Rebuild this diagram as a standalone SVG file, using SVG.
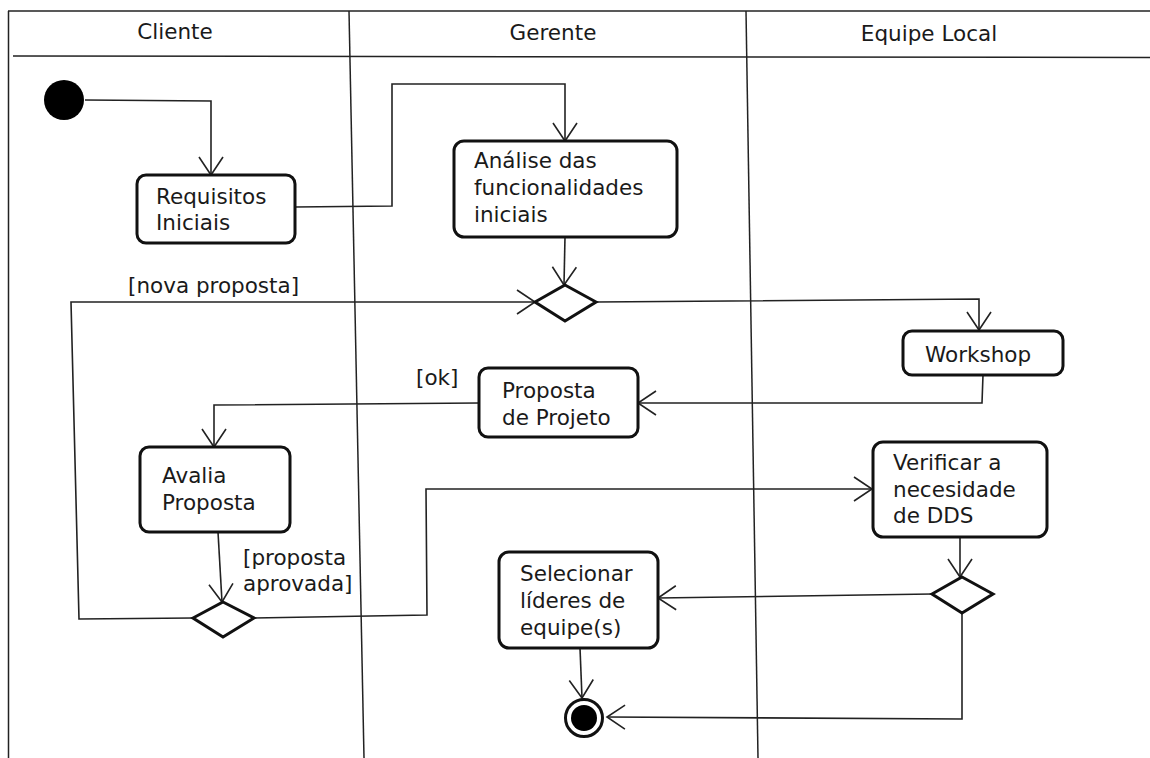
<svg xmlns="http://www.w3.org/2000/svg" width="1150" height="758" viewBox="0 0 1150 758">
  <style>
    .lane { fill: none; stroke: #222; stroke-width: 1.5; }
    .edge { fill: none; stroke: #222; stroke-width: 1.6; }
    .act { fill: #fff; stroke: #111; stroke-width: 3; }
    .dec { fill: #fff; stroke: #111; stroke-width: 3; stroke-linejoin: miter; }
    text { font-family: "DejaVu Sans", "Liberation Sans", sans-serif; font-size: 21.5px; fill: #1a1a1a; }
    .hdr { text-anchor: middle; }
  </style>
  <defs>
    <marker id="open" markerUnits="userSpaceOnUse" markerWidth="40" markerHeight="40" refX="0" refY="0" viewBox="-20 -20 40 40" orient="auto" overflow="visible">
      <path d="M-18,-12 L0,0 L-18,12" fill="none" stroke="#222" stroke-width="1.6"/>
    </marker>
  </defs>

  <rect width="1150" height="758" fill="#fff"/>

  <!-- swimlane frame -->
  <g id="lanes">
    <line class="lane" x1="8" y1="11" x2="1150" y2="11"/>
    <line class="lane" x1="8.5" y1="11" x2="8.5" y2="758"/>
    <line class="lane" x1="13" y1="56" x2="1150" y2="57.5"/>
    <line class="lane" x1="349" y1="11" x2="364" y2="758"/>
    <line class="lane" x1="746" y1="11" x2="758" y2="758"/>
    <text class="hdr" x="175" y="39">Cliente</text>
    <text class="hdr" x="553" y="40">Gerente</text>
    <text class="hdr" x="929" y="41">Equipe Local</text>
  </g>

  <!-- control flows -->
  <g id="connectors">
    <polyline class="edge" points="85,100 211,101 211,175" marker-end="url(#open)"/>
    <polyline class="edge" points="295,207 392,206 392,84 565,84 565,141" marker-end="url(#open)"/>
    <polyline class="edge" points="565,237 564,285" marker-end="url(#open)"/>
    <polyline class="edge" points="193,618 79,619 71,302 535,302" marker-end="url(#open)"/>
    <polyline class="edge" points="596,302 979,299 979,330" marker-end="url(#open)"/>
    <polyline class="edge" points="983,375 982,403 638,403" marker-end="url(#open)"/>
    <polyline class="edge" points="479,403 214,405 214,447" marker-end="url(#open)"/>
    <polyline class="edge" points="218,532 222,602" marker-end="url(#open)"/>
    <polyline class="edge" points="254,618 427,615 426,489 872,489" marker-end="url(#open)"/>
    <polyline class="edge" points="960,537 960,577" marker-end="url(#open)"/>
    <polyline class="edge" points="932,594 658,598" marker-end="url(#open)"/>
    <polyline class="edge" points="580,648 582,698" marker-end="url(#open)"/>
    <polyline class="edge" points="962,613 962,719 607,717" marker-end="url(#open)"/>
    <text x="128" y="293">[nova proposta]</text>
    <text x="416" y="385">[ok]</text>
    <text x="243" y="565">[proposta</text>
    <text x="243" y="591">aprovada]</text>
  </g>

  <g id="inicio">
    <circle cx="64" cy="100" r="20" fill="#000"/>
  </g>

  <g id="requisitos-iniciais">
    <rect class="act" x="137" y="175" width="158" height="68" rx="9"/>
    <text x="156" y="204">Requisitos</text>
    <text x="156" y="230">Iniciais</text>
  </g>

  <g id="analise-funcionalidades">
    <rect class="act" x="454" y="141" width="223" height="96" rx="10"/>
    <text x="474" y="168">Análise das</text>
    <text x="474" y="195">funcionalidades</text>
    <text x="474" y="222">iniciais</text>
  </g>

  <g id="decisao-gerente">
    <polygon class="dec" points="565,285 596,302 565,321 535,302"/>
  </g>

  <g id="workshop">
    <rect class="act" x="903" y="331" width="160" height="44" rx="9"/>
    <text x="925" y="362">Workshop</text>
  </g>

  <g id="proposta-projeto">
    <rect class="act" x="479" y="368" width="159" height="69" rx="9"/>
    <text x="502" y="398">Proposta</text>
    <text x="502" y="425">de Projeto</text>
  </g>

  <g id="avalia-proposta">
    <rect class="act" x="140" y="447" width="150" height="85" rx="9"/>
    <text x="162" y="483">Avalia</text>
    <text x="162" y="510">Proposta</text>
  </g>

  <g id="decisao-cliente">
    <polygon class="dec" points="223,602 254,618 223,637 193,618"/>
  </g>

  <g id="verificar-dds">
    <rect class="act" x="873" y="442" width="174" height="95" rx="10"/>
    <text x="893" y="470">Verificar a</text>
    <text x="893" y="497">necesidade</text>
    <text x="893" y="523">de DDS</text>
  </g>

  <g id="decisao-equipe">
    <polygon class="dec" points="962,577 993,594 962,613 932,594"/>
  </g>

  <g id="selecionar-lideres">
    <rect class="act" x="499" y="552" width="159" height="96" rx="10"/>
    <text x="520" y="581">Selecionar</text>
    <text x="520" y="608">líderes de</text>
    <text x="520" y="635">equipe(s)</text>
  </g>

  <g id="fim">
    <circle cx="584" cy="718" r="18.5" fill="#fff" stroke="#111" stroke-width="3"/>
    <circle cx="584" cy="718" r="13" fill="#000"/>
  </g>
</svg>
